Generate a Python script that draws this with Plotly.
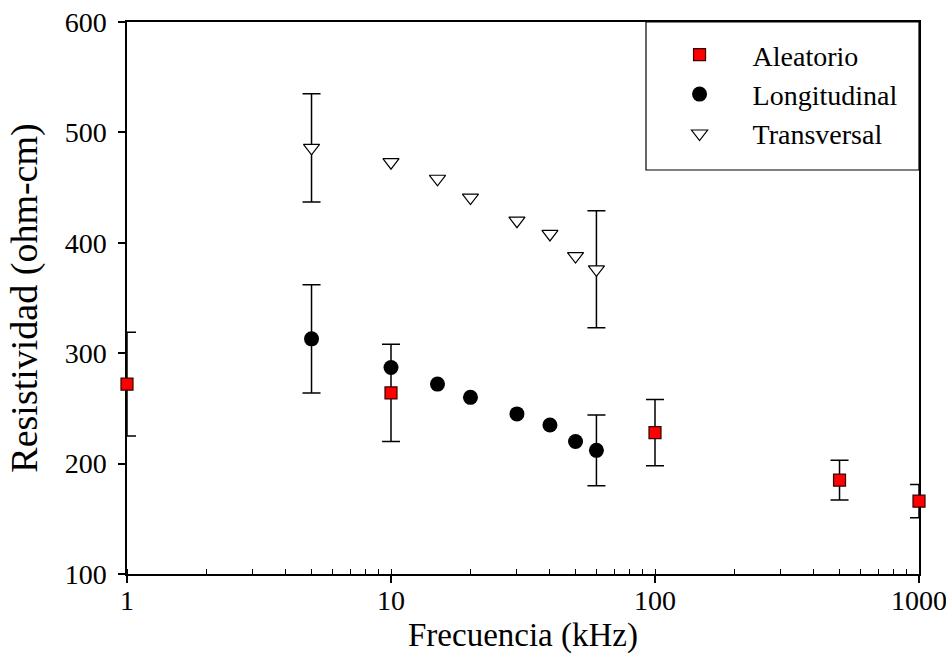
import plotly.graph_objects as go

# Data
freq_ale = [1, 10, 100, 500, 1000]
res_ale = [272, 264, 228, 185, 166]
err_ale = [47, 44, 30, 18, 15]

freq_lon = [5, 10, 15, 20, 30, 40, 50, 60]
res_lon = [313, 287, 272, 260, 245, 235, 220, 212]
# error bars only given at 5 and 60 kHz
freq_lon_err = [5, 60]
res_lon_err = [313, 212]
err_lon = [49, 32]

freq_tra = [5, 10, 15, 20, 30, 40, 50, 60]
res_tra = [486, 473, 458, 441, 420, 408, 388, 376]
freq_tra_err = [5, 60]
res_tra_err = [486, 376]
err_tra = [49, 53]

series_names = ["Aleatorio", "Longitudinal", "Transversal"]
x_tickvals = [1, 10, 100, 1000]
x_ticktext = ["1", "10", "100", "1000"]
y_tickvals = [100, 200, 300, 400, 500, 600]

FONT = "Liberation Serif, Times New Roman, serif"

def ebar(arr):
    return dict(type="data", array=arr, visible=True, color="black",
                thickness=1.5, width=9)

fig = go.Figure()
# error-bar-only traces
fig.add_trace(go.Scatter(
    x=freq_tra_err, y=res_tra_err, mode="markers", showlegend=False,
    marker=dict(opacity=0, size=2), error_y=ebar(err_tra),
    cliponaxis=False, hoverinfo="skip"))
fig.add_trace(go.Scatter(
    x=freq_lon_err, y=res_lon_err, mode="markers", showlegend=False,
    marker=dict(opacity=0, size=2), error_y=ebar(err_lon),
    cliponaxis=False, hoverinfo="skip"))

fig.add_trace(go.Scatter(
    x=freq_tra, y=res_tra, mode="markers", name=series_names[2],
    legendgroup="c", legendrank=3,
    marker=dict(symbol="triangle-down", size=14, color="white",
                line=dict(color="black", width=1.2)),
    cliponaxis=False))
fig.add_trace(go.Scatter(
    x=freq_lon, y=res_lon, mode="markers", name=series_names[1],
    legendgroup="b", legendrank=2,
    marker=dict(symbol="circle", size=15, color="black",
                line=dict(color="black", width=0)),
    cliponaxis=False))
fig.add_trace(go.Scatter(
    x=freq_ale, y=res_ale, mode="markers", name=series_names[0],
    legendgroup="a", legendrank=1,
    marker=dict(symbol="square", size=12, color="#ff0000",
                line=dict(color="#3a0000", width=1.2)),
    error_y=ebar(err_ale), cliponaxis=False))

# legend box
fig.add_shape(type="rect", xref="paper", yref="paper",
              x0=0.6553, x1=1.0, y0=0.7319, y1=1.0,
              line=dict(color="black", width=1.2), fillcolor="white",
              layer="below")

fig.update_layout(
    width=946, height=659,
    margin=dict(l=127, r=27, t=22, b=85, autoexpand=False),
    paper_bgcolor="white", plot_bgcolor="white",
    font=dict(family=FONT, color="black", size=28),
    showlegend=True,
    legend=dict(x=0.656, y=0.9855, xanchor="left", yanchor="top",
                bgcolor="rgba(0,0,0,0)", borderwidth=0,
                font=dict(family=FONT, size=28, color="black"),
                itemwidth=96, tracegroupgap=8, traceorder="normal"),
    xaxis=dict(type="log", range=[0, 3], automargin=False,
               tickvals=x_tickvals, ticktext=x_ticktext,
               ticks="outside", ticklen=7, tickwidth=1.5, tickcolor="black",
               minor=dict(ticks="inside", ticklen=5, tickwidth=1,
                          tickcolor="black", dtick="D1", showgrid=False),
               showline=True, linecolor="black", linewidth=1.5, mirror=True,
               showgrid=False, zeroline=False, layer="below traces",
               tickfont=dict(size=28), ticklabelstandoff=-6,
               ticklabeloverflow="allow",
               title=dict(text="Frecuencia (kHz)", font=dict(size=33),
                          standoff=8)),
    yaxis=dict(range=[100, 600], tickvals=y_tickvals, automargin=False,
               ticks="outside", ticklen=7, tickwidth=1.5, tickcolor="black",
               showline=True, linecolor="black", linewidth=1.5, mirror=True,
               showgrid=False, zeroline=False, layer="below traces",
               tickfont=dict(size=28), ticklabelstandoff=6,
               title=dict(text="Resistividad (ohm-cm)", font=dict(size=38),
                          standoff=15)),
)

fig.write_html("out.html")
